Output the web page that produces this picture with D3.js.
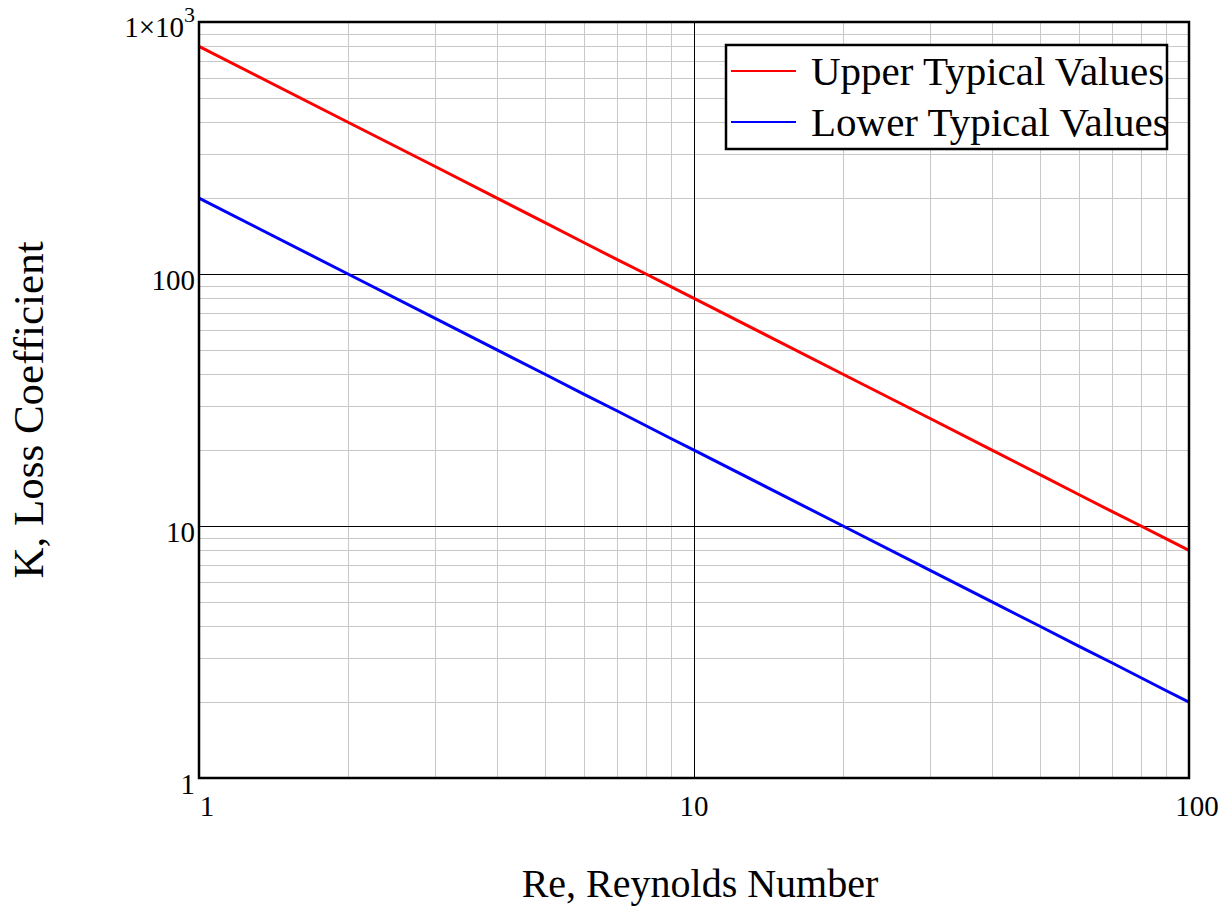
<!DOCTYPE html>
<meta charset="utf-8">
<html>
<script src="https://d3js.org/d3.v7.min.js"></script>
<style>
    body { margin: 0; background: white; }
    text { font-family: "Liberation Serif", "Times New Roman", serif; fill: black; }
</style>
<body>
<div id="chart"></div>
<script>
    // Chart data
    var reynolds = [1, 2, 3, 4, 5, 6, 7, 8, 9, 10, 20, 30, 40, 50, 60, 70, 80, 90, 100];
    var upperK = [800, 400, 267, 200, 160, 133, 114, 100, 88.9, 80, 40, 26.7, 20, 16, 13.3, 11.4, 10, 8.89, 8];
    var lowerK = [200, 100, 66.7, 50, 40, 33.3, 28.6, 25, 22.2, 20, 10, 6.67, 5, 4, 3.33, 2.86, 2.5, 2.22, 2];
    var seriesNames = ["Upper Typical Values", "Lower Typical Values"];
    var seriesColors = ["#ff0000", "#0000ff"];
    var xTicks = [1, 10, 100];
    var yTicks = [1, 10, 100, 1000];

    // Dimensions
    var W = 1231, H = 907;
    var plotL = 199, plotT = 22, plotR = 1189, plotB = 778;

    var svg = d3.select("#chart").append("svg")
        .attr("width", W)
        .attr("height", H);

    var x = d3.scaleLog().domain([1, 100]).range([plotL, plotR]);
    var y = d3.scaleLog().domain([1, 1000]).range([plotB, plotT]);

    // Minor grid values (2..9 per decade)
    var xMinor = [], yMinor = [];
    [1, 10].forEach(function (d) { for (var k = 2; k <= 9; k++) xMinor.push(d * k); });
    [1, 10, 100].forEach(function (d) { for (var k = 2; k <= 9; k++) yMinor.push(d * k); });

    var grid = svg.append("g");
    grid.selectAll(".xminor").data(xMinor).enter().append("line")
        .attr("x1", function (d) { return Math.round(x(d)) + 0.5; })
        .attr("x2", function (d) { return Math.round(x(d)) + 0.5; })
        .attr("y1", plotT).attr("y2", plotB)
        .attr("stroke", "#c8c8c8").attr("stroke-width", 1);
    grid.selectAll(".yminor").data(yMinor).enter().append("line")
        .attr("y1", function (d) { return Math.round(y(d)) + 0.5; })
        .attr("y2", function (d) { return Math.round(y(d)) + 0.5; })
        .attr("x1", plotL).attr("x2", plotR)
        .attr("stroke", "#c8c8c8").attr("stroke-width", 1);
    grid.selectAll(".xmajor").data(xTicks.slice(1, -1)).enter().append("line")
        .attr("x1", function (d) { return Math.round(x(d)) + 0.5; })
        .attr("x2", function (d) { return Math.round(x(d)) + 0.5; })
        .attr("y1", plotT).attr("y2", plotB)
        .attr("stroke", "black").attr("stroke-width", 1);
    grid.selectAll(".ymajor").data(yTicks.slice(1, -1)).enter().append("line")
        .attr("y1", function (d) { return Math.round(y(d)) + 0.5; })
        .attr("y2", function (d) { return Math.round(y(d)) + 0.5; })
        .attr("x1", plotL).attr("x2", plotR)
        .attr("stroke", "black").attr("stroke-width", 1);

    // Lines
    var line = d3.line()
        .x(function (d) { return x(d[0]); })
        .y(function (d) { return y(d[1]); });
    [upperK, lowerK].forEach(function (vals, i) {
        svg.append("path")
            .datum(reynolds.map(function (r, j) { return [r, vals[j]]; }))
            .attr("fill", "none")
            .attr("stroke", seriesColors[i])
            .attr("stroke-width", 3)
            .attr("d", line);
    });

    // Plot frame
    svg.append("rect")
        .attr("x", plotL).attr("y", plotT)
        .attr("width", plotR - plotL).attr("height", plotB - plotT)
        .attr("fill", "none").attr("stroke", "black").attr("stroke-width", 2.5);

    // X tick labels
    var xOffsets = [8, 0, 8];
    svg.selectAll(".xlab").data(xTicks).enter().append("text")
        .attr("x", function (d, i) { return x(d) + xOffsets[i]; })
        .attr("y", 816)
        .attr("text-anchor", "middle")
        .style("font-size", "29px")
        .text(function (d) { return d; });

    // Y tick labels
    var yLab = svg.selectAll(".ylab").data(yTicks).enter().append("text")
        .attr("x", 195)
        .attr("y", function (d) { return y(d) + 16; })
        .attr("text-anchor", "end")
        .style("font-size", "29px");
    yLab.filter(function (d) { return d !== 1000; }).text(function (d) { return d; });
    var thousand = yLab.filter(function (d) { return d === 1000; })
        .attr("y", 37)
        .attr("x", 195)
        .text("1\u00d710");
    thousand.append("tspan").attr("dy", -15).style("font-size", "22px").text("3");

    // Axis titles
    svg.append("text")
        .attr("x", 700).attr("y", 897)
        .attr("text-anchor", "middle")
        .style("font-size", "40px")
        .text("Re, Reynolds Number");
    svg.append("text")
        .attr("transform", "translate(43,410) rotate(-90)")
        .attr("text-anchor", "middle")
        .style("font-size", "43px")
        .text("K, Loss Coefficient");

    // Legend
    var lg = svg.append("g");
    lg.append("rect")
        .attr("x", 726).attr("y", 45).attr("width", 441).attr("height", 104)
        .attr("fill", "white").attr("stroke", "black").attr("stroke-width", 2.5);
    seriesNames.forEach(function (name, i) {
        var ly = 71 + i * 51;
        lg.append("line")
            .attr("x1", 731).attr("x2", 796).attr("y1", ly).attr("y2", ly)
            .attr("stroke", seriesColors[i]).attr("stroke-width", 2);
        lg.append("text")
            .attr("x", 811).attr("y", ly + 14)
            .style("font-size", "41px")
            .text(name);
    });
</script>
</body>
</html>
